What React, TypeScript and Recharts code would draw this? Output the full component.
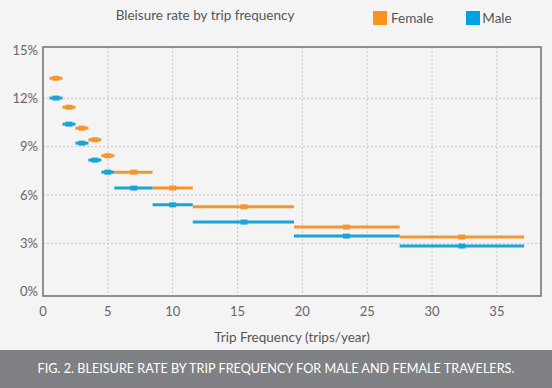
import React from "react";
import {
  ScatterChart,
  Scatter,
  XAxis,
  YAxis,
  CartesianGrid,
  ErrorBar,
  ReferenceArea,
} from "recharts";

// Trip-frequency bins: centre value and range covered
const binCenter = [1, 2, 3, 4, 5, 7, 10, 15.5, 23.4, 32.3];
const binLow = [0.5, 1.5, 2.5, 3.5, 4.5, 5.5, 8.45, 11.55, 19.35, 27.5];
const binHigh = [1.5, 2.5, 3.5, 4.5, 5.5, 8.45, 11.55, 19.35, 27.5, 37.1];

// Bleisure rate (%)
const femaleRate = [13.25, 11.45, 10.15, 9.43, 8.44, 7.42, 6.43, 5.27, 4.01, 3.39];
const maleRate = [12.02, 10.4, 9.22, 8.17, 7.42, 6.43, 5.39, 4.32, 3.45, 2.83];

const xTicks = [0, 5, 10, 15, 20, 25, 30, 35];
const yTicks = [0, 3, 6, 9, 12, 15];

const X_MAX = 38.4;
const Y_MIN = -0.27;
const Y_MAX = 15.19;

const ORANGE = "#f3962f";
const BLUE = "#1ba3d8";
const FONT = "Lato, 'Open Sans', sans-serif";

const build = (rates: number[]) =>
  rates.map((y, i) => ({
    x: binCenter[i],
    y,
    xErr: [binCenter[i] - binLow[i], binHigh[i] - binCenter[i]],
  }));

const femaleData = build(femaleRate);
const maleData = build(maleRate);

const makeMarker = (color: string) => (props: any) => {
  const { cx, cy } = props;
  if (cx == null || cy == null) return <g />;
  return <rect x={cx - 3.5} y={cy - 2.5} width={7} height={5} fill={color} />;
};

export default function App() {
  return (
    <div
      style={{
        position: "absolute",
        left: 0,
        top: 0,
        width: 552,
        height: 388,
        background: "#f4f4f4",
        fontFamily: FONT,
        overflow: "hidden",
      }}
    >
      <div
        style={{
          position: "absolute",
          left: 80,
          width: 250,
          top: 7,
          textAlign: "center",
          fontSize: 13.5,
          color: "#555",
        }}
      >
        Bleisure rate by trip frequency
      </div>
      <div
        style={{
          position: "absolute",
          left: 373,
          top: 10,
          display: "flex",
          alignItems: "center",
          fontSize: 13.5,
          color: "#555",
        }}
      >
        <span style={{ width: 14, height: 14, background: "#f7941e", display: "inline-block", marginRight: 4 }} />
        <span style={{ marginRight: 33 }}>Female</span>
        <span style={{ width: 14, height: 14, background: "#00a3e0", display: "inline-block", marginRight: 2 }} />
        <span>Male</span>
      </div>

      <div style={{ position: "absolute", left: 0, top: 0 }}>
        <ScatterChart
          width={552}
          height={346}
          margin={{ top: 47, right: 11, left: 0, bottom: 20 }}
        >
          <CartesianGrid
            stroke="#c8c8c8"
            strokeDasharray="2 2"
            horizontalValues={[3, 6, 9, 12]}
            verticalValues={[5, 10, 15, 20, 25, 30, 35]}
          />
          <XAxis
            type="number"
            dataKey="x"
            domain={[0, X_MAX]}
            ticks={xTicks}
            allowDataOverflow
            axisLine={false}
            tickLine={false}
            tickSize={0}
            tickMargin={11}
            height={30}
            tick={{ fill: "#666", fontSize: 13, fontFamily: FONT }}
            label={{
              value: "Trip Frequency (trips/year)",
              position: "insideBottom",
              offset: -16,
              fill: "#555",
              fontSize: 13.5,
              fontFamily: FONT,
            }}
          />
          <YAxis
            type="number"
            dataKey="y"
            domain={[Y_MIN, Y_MAX]}
            ticks={yTicks}
            allowDataOverflow
            axisLine={false}
            tickLine={false}
            tickSize={0}
            tickMargin={5}
            width={43}
            tickFormatter={(v: number) => `${v}%`}
            tick={{ fill: "#666", fontSize: 13, fontFamily: FONT }}
          />
          <ReferenceArea
            x1={0}
            x2={X_MAX}
            y1={Y_MIN}
            y2={Y_MAX}
            fill="none"
            stroke="#6f6f6f"
            strokeWidth={1.5}
            ifOverflow="visible"
          />
          <Scatter
            name="Female"
            data={femaleData}
            fill={ORANGE}
            isAnimationActive={false}
            shape={makeMarker(ORANGE)}
          >
            <ErrorBar dataKey="xErr" direction="x" width={0} stroke={ORANGE} strokeWidth={3} />
          </Scatter>
          <Scatter
            name="Male"
            data={maleData}
            fill={BLUE}
            isAnimationActive={false}
            shape={makeMarker(BLUE)}
          >
            <ErrorBar dataKey="xErr" direction="x" width={0} stroke={BLUE} strokeWidth={3} />
          </Scatter>
        </ScatterChart>
      </div>

      <div
        style={{
          position: "absolute",
          left: 0,
          top: 350,
          width: 552,
          height: 38,
          background: "#7f8184",
          color: "#fff",
          fontSize: 12.65,
          lineHeight: "38px",
          textAlign: "center",
        }}
      >
        FIG. 2. BLEISURE RATE BY TRIP FREQUENCY FOR MALE AND FEMALE TRAVELERS.
      </div>
    </div>
  );
}
